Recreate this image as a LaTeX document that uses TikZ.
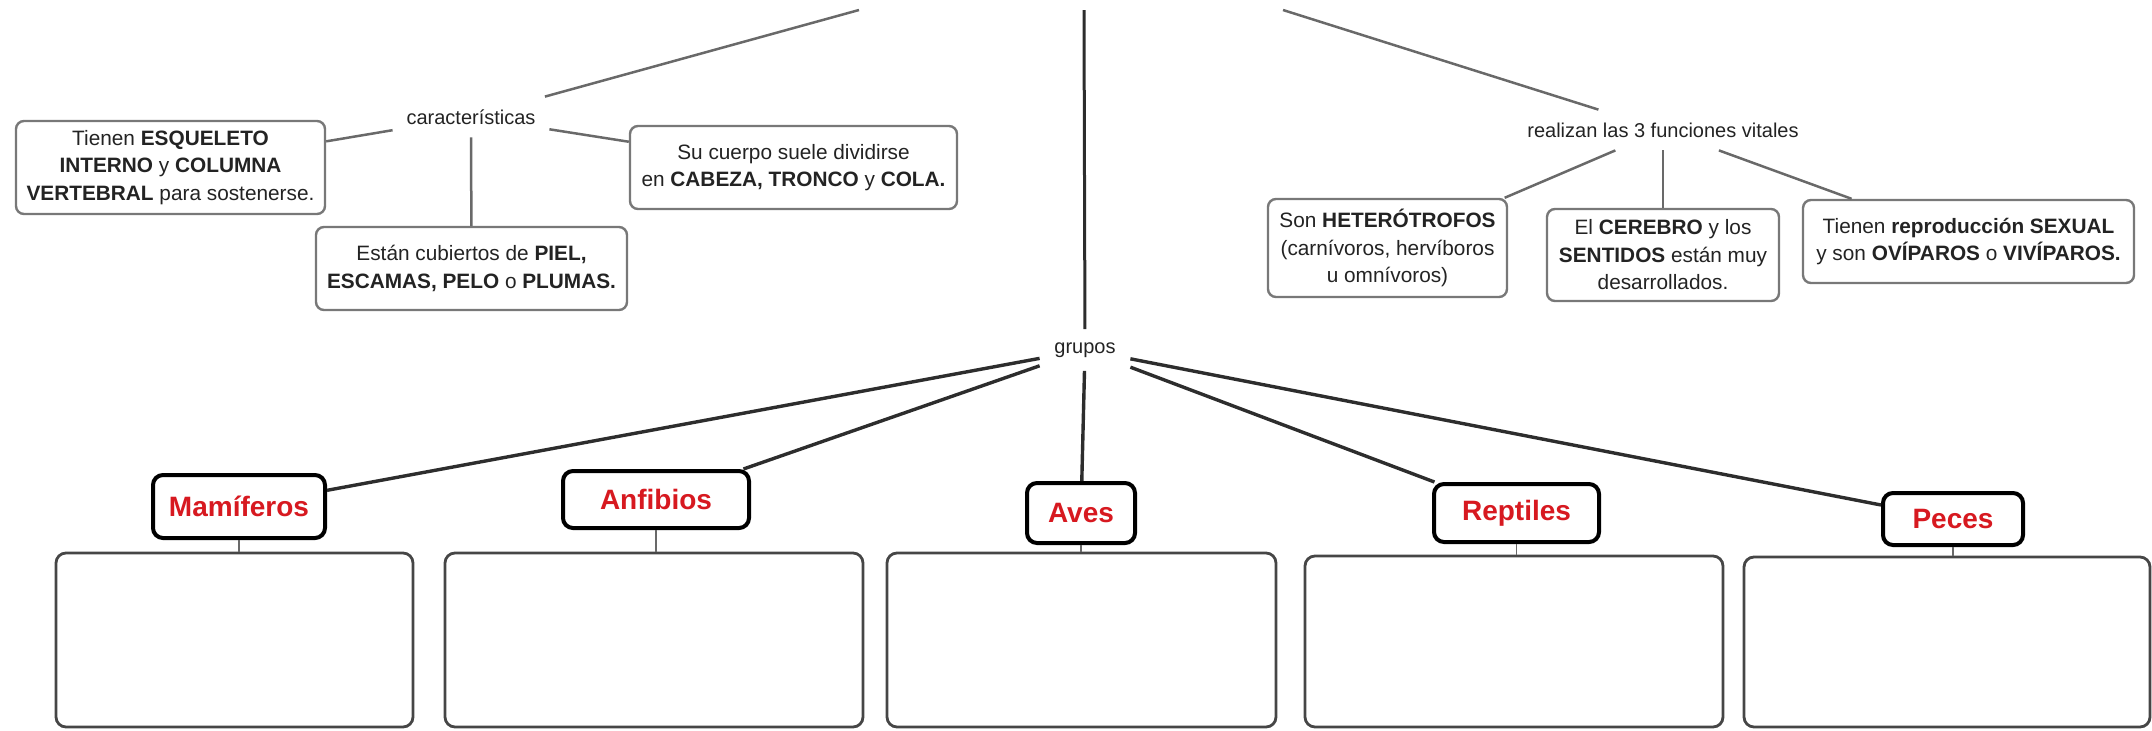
\documentclass[tikz,border=0pt]{standalone}
\usepackage{fontspec}
\setmainfont{Liberation Sans}
\definecolor{txt}{RGB}{35,35,35}
\definecolor{linkgray}{RGB}{105,105,105}
\definecolor{darkline}{RGB}{45,45,45}
\definecolor{boxgray}{RGB}{120,120,120}
\definecolor{bigbox}{RGB}{70,70,70}
\definecolor{labred}{RGB}{215,25,32}
\begin{document}
\begin{tikzpicture}[x=0.5pt,y=-0.5pt,
  linkword/.style={font=\fontsize{10}{12}\selectfont, text=txt, inner sep=0pt},
  conceptbox/.style={draw=boxgray, line width=1.2pt, rounded corners=4pt, align=center,
    font=\fontsize{10.4}{13.75}\selectfont, text=txt, inner sep=0pt, fill=white},
  grouplabel/.style={draw=black, line width=2pt, rounded corners=5pt, inner sep=0pt,
    font=\fontsize{14}{16}\selectfont\bfseries, text=labred, fill=white},
  emptybox/.style={draw=bigbox, line width=1.4pt, rounded corners=5pt, inner sep=0pt},
  topline/.style={draw=linkgray, line width=1.25pt},
  trunk/.style={draw=darkline, line width=1.5pt},
  grupline/.style={draw=darkline, line width=1.7pt},
  stem/.style={draw=linkgray, line width=0.8pt}]
\useasboundingbox (0,0) rectangle (2152,730);

% free ends of the three upper branches
\coordinate (topL) at (859,10);
\coordinate (topM) at (1084,10);
\coordinate (topR) at (1283,10);

% linking phrases
\node[linkword, minimum width=78pt, minimum height=20pt] (car) at (471,117) {características};
\node[linkword, minimum width=140pt, minimum height=20pt] (real) at (1663,130) {realizan las 3 funciones vitales};
\node[linkword, minimum width=45pt, minimum height=20.5pt] (grupos) at (1085,350) {grupos};

% características
\node[conceptbox, minimum width=154.5pt, minimum height=46.5pt] (esq) at (170.5,167.5)
  {Tienen \textbf{ESQUELETO}\\ \textbf{INTERNO} y \textbf{COLUMNA}\\ \textbf{VERTEBRAL} para sostenerse.};
\node[conceptbox, minimum width=155.5pt, minimum height=41.5pt] (piel) at (471.5,268.5)
  {Están cubiertos de \textbf{PIEL,}\\ \textbf{ESCAMAS, PELO} o \textbf{PLUMAS.}};
\node[conceptbox, minimum width=163.5pt, minimum height=41.5pt] (cuerpo) at (793.5,167.5)
  {Su cuerpo suele dividirse\\ en \textbf{CABEZA, TRONCO} y \textbf{COLA.}};

% funciones vitales
\node[conceptbox, minimum width=119.5pt, minimum height=49pt] (nutr) at (1387.5,248)
  {Son \textbf{HETERÓTROFOS}\\ (carnívoros, hervíboros\\ u omnívoros)};
\node[conceptbox, minimum width=116pt, minimum height=46pt] (rel) at (1663,255)
  {El \textbf{CEREBRO} y los\\ \textbf{SENTIDOS} están muy\\ desarrollados.};
\node[conceptbox, minimum width=165.5pt, minimum height=41.5pt] (repro) at (1968.5,241.5)
  {Tienen \textbf{reproducción SEXUAL}\\ y son \textbf{OVÍPAROS} o \textbf{VIVÍPAROS.}};

% grupos
\node[grouplabel, minimum width=86pt, minimum height=31.5pt] (mam) at (239,506.5) {Mamíferos};
\node[grouplabel, minimum width=93pt, minimum height=28.5pt] (anf) at (656,499.5) {Anfibios};
\node[grouplabel, minimum width=54pt, minimum height=30pt] (ave) at (1081,513) {Aves};
\node[grouplabel, minimum width=82.5pt, minimum height=29pt] (rep) at (1516.5,513) {Reptiles};
\node[grouplabel, minimum width=70pt, minimum height=26pt] (pec) at (1953,519) {Peces};

% empty boxes under each group
\node[emptybox, minimum width=178.5pt, minimum height=87pt] (b1) at (234.5,640) {};
\node[emptybox, minimum width=209pt, minimum height=87pt] (b2) at (654,640) {};
\node[emptybox, minimum width=194.5pt, minimum height=87pt] (b3) at (1081.5,640) {};
\node[emptybox, minimum width=209pt, minimum height=85.5pt] (b4) at (1514,641.5) {};
\node[emptybox, minimum width=203pt, minimum height=85pt] (b5) at (1947,642) {};

% upper branches
\draw[topline] (car) -- (topL);
\draw[topline] (car) -- (esq);
\draw[topline] (car) -- (piel);
\draw[topline] (car) -- (cuerpo);
\draw[topline] (real) -- (topR);
\draw[topline] (real) -- (nutr);
\draw[topline] (real) -- (rel);
\draw[topline] (real) -- (repro);
\draw[trunk] (topM) -- (grupos);

% group branches
\draw[grupline] (grupos) -- (mam);
\draw[grupline] (grupos) -- (anf);
\draw[grupline] (grupos) -- (ave);
\draw[grupline] (grupos) -- (rep);
\draw[grupline] (grupos) -- (pec);

% stems down to the empty boxes
\draw[stem] (mam.south) -- (mam.south |- b1.north);
\draw[stem] (anf.south) -- (anf.south |- b2.north);
\draw[stem] (ave.south) -- (ave.south |- b3.north);
\draw[stem] (rep.south) -- (rep.south |- b4.north);
\draw[stem] (pec.south) -- (pec.south |- b5.north);
\end{tikzpicture}
\end{document}
